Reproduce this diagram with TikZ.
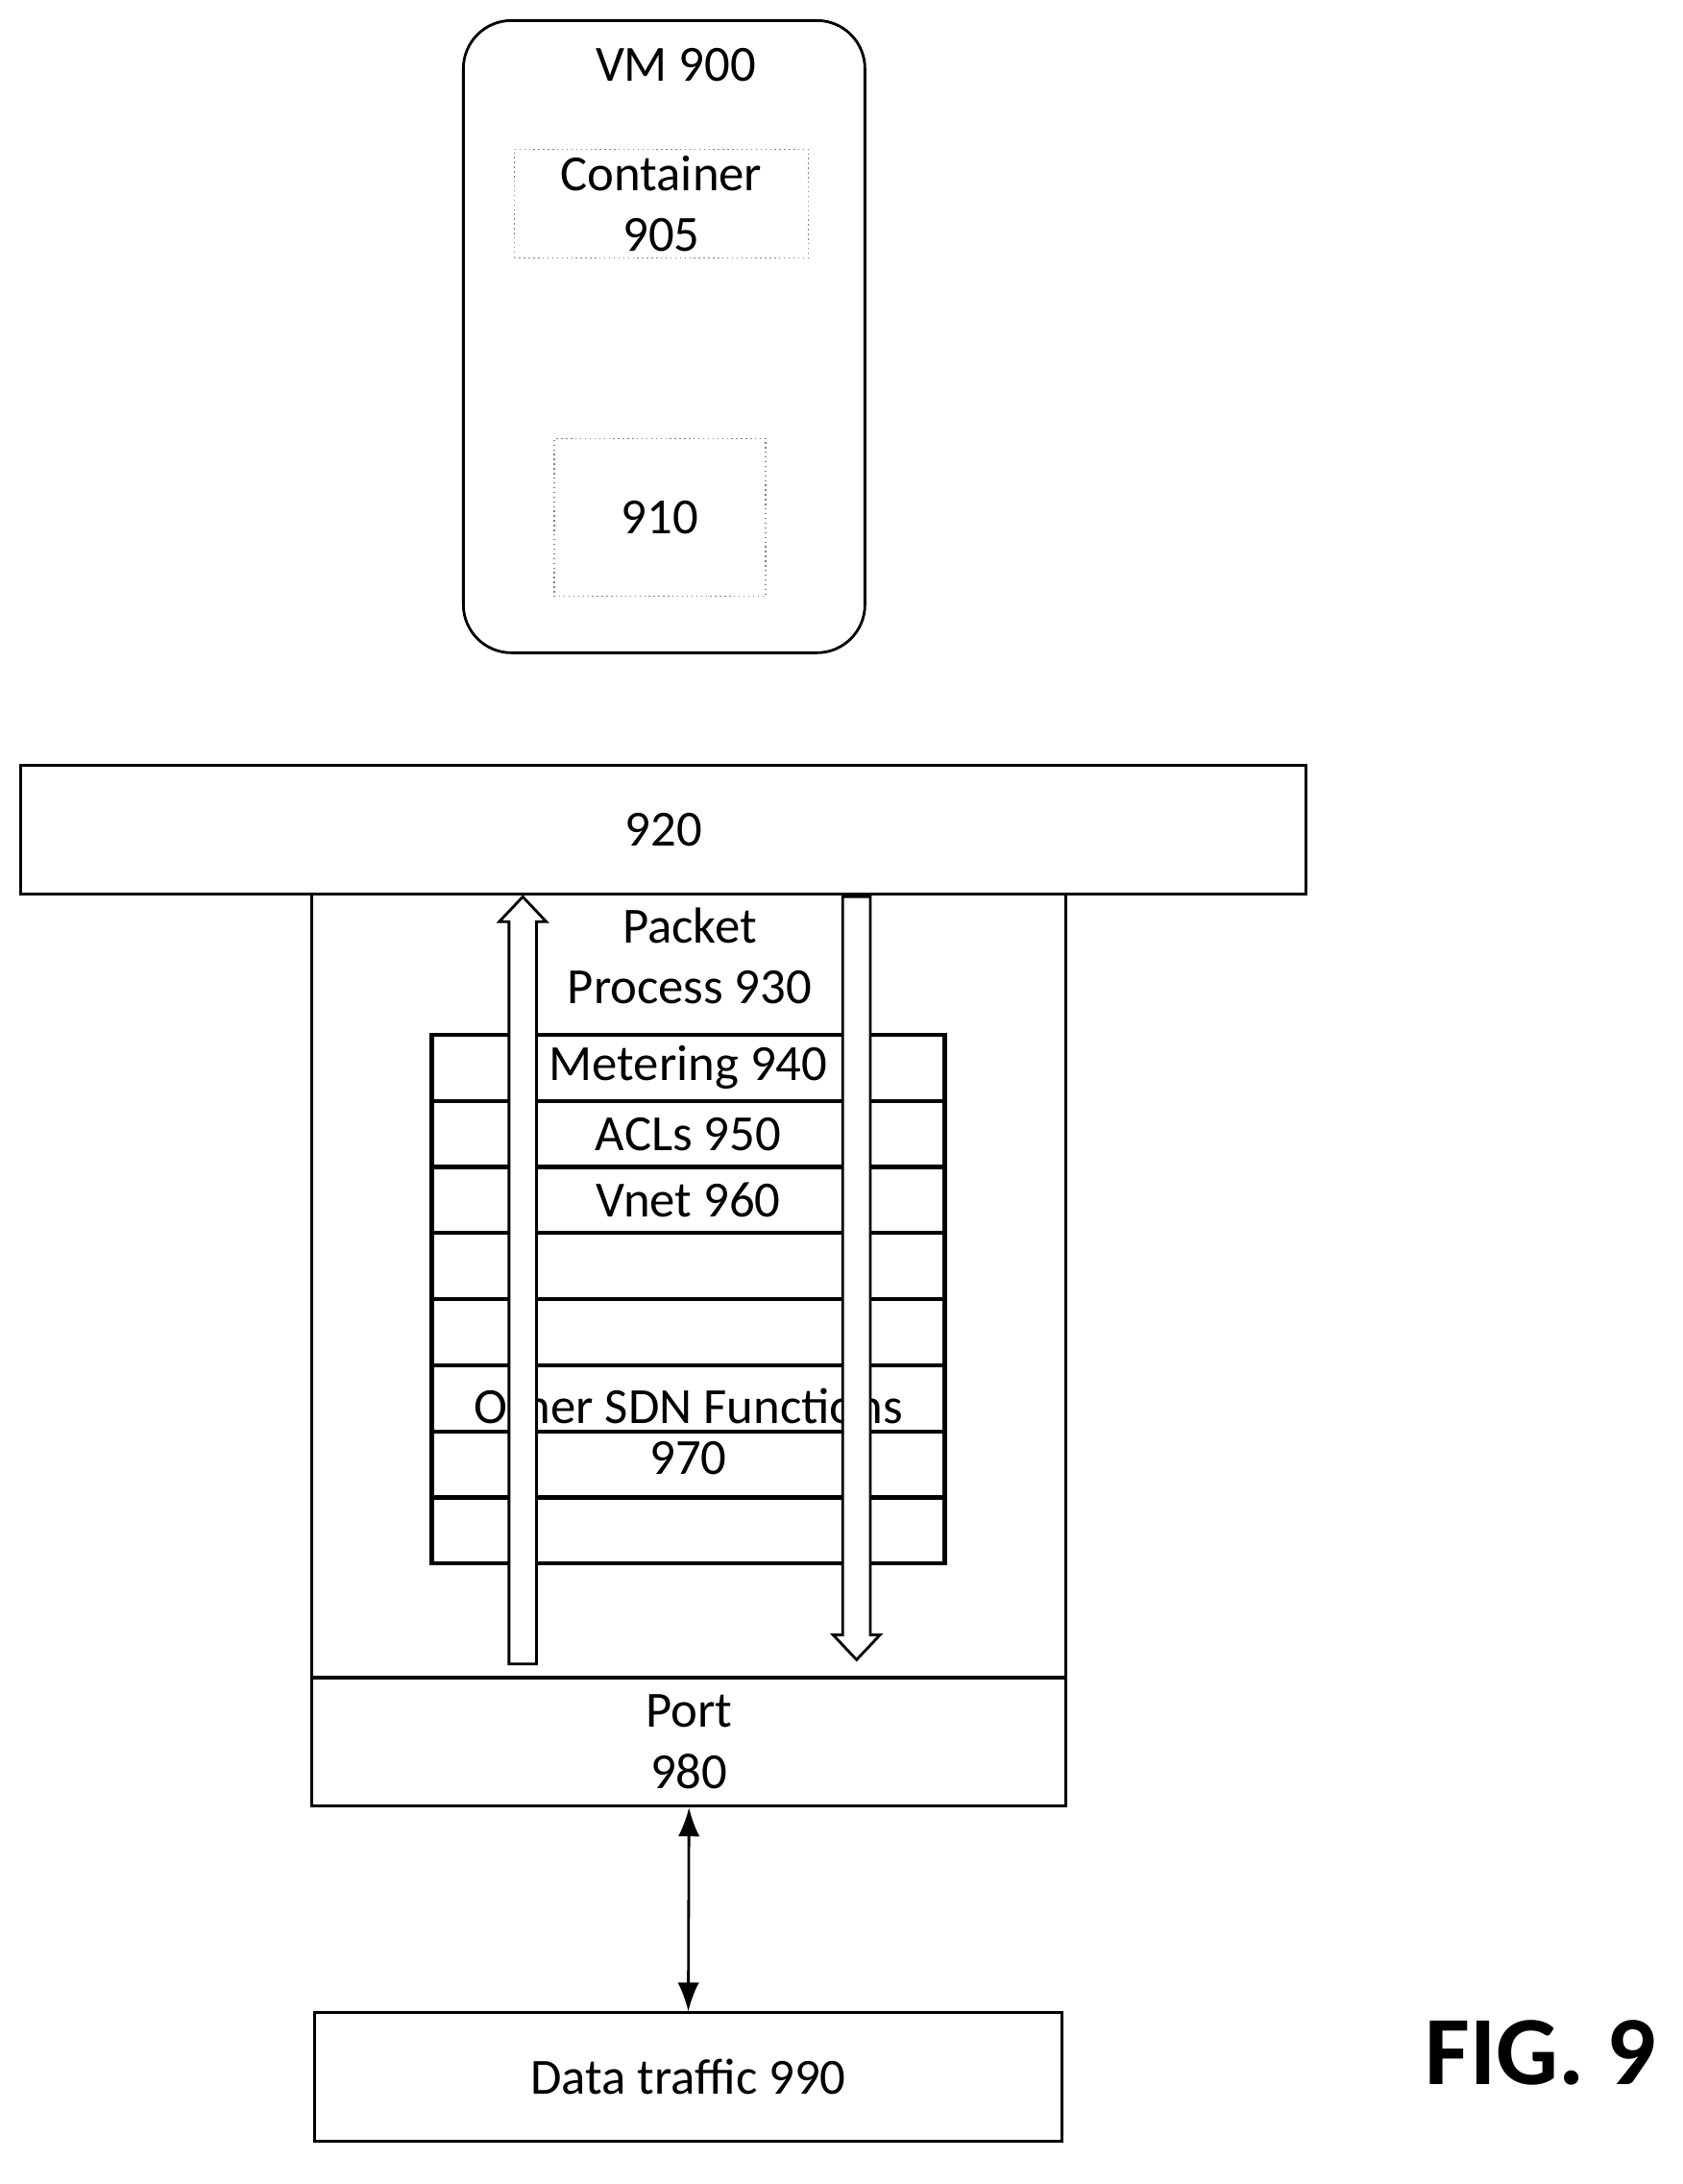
\documentclass[tikz,border=0pt]{standalone}
\usepackage{fontspec}
\setmainfont{Carlito}
\usetikzlibrary{arrows.meta, positioning, shapes}
\tikzstyle{box_style} = [rectangle, draw, thick, align=center, inner sep=0pt, font=\fontsize{15}{18}\selectfont]
\tikzstyle{dot_style} = [rectangle, draw=gray, densely dotted, align=center, inner sep=0pt, font=\fontsize{15}{18}\selectfont]
\tikzstyle{row_style} = [rectangle, draw, very thick, minimum width=5.34cm, minimum height=0.688cm, inner sep=0pt]
\tikzstyle{hollow_style} = [draw, thick, fill=white]
\tikzstyle{arrow_style} = [thick, {Latex[length=3mm]}-{Latex[length=3mm]}]
\begin{document}
\begin{tikzpicture}[x=0.01436cm, y=-0.01436cm]
	  \useasboundingbox (0,0) rectangle (1220,1583);
	
	  % VM
	  \node[box_style, rounded corners=0.5cm, minimum width=4.18cm, minimum height=6.58cm] (vm) at (481.5,244) {};
	  \node[font=\fontsize{15}{18}\selectfont] (vmlabel) at (490,47) {VM 900};
	  \node[dot_style, minimum width=3.06cm, minimum height=1.13cm] (container) at (479.5,147.5) {Container\\905};
	  \node[dot_style, minimum width=2.2cm, minimum height=1.64cm] (node910) at (478.5,375) {910};
	
	  % 920
	  \node[box_style, minimum width=13.38cm, minimum height=1.34cm] (node920) at (481,601.5) {920};
	
	  % Packet process
	  \node[box_style, minimum width=7.85cm, minimum height=8.16cm] (process) at (499.5,932) {};
	  \node[font=\fontsize{15}{18}\selectfont, align=center] (processlabel) at (500,693) {Packet\\Process 930};
	  \foreach \i in {0,...,7}
	    \node[row_style] (row\i) at (499,774+47.9*\i) {};
	  \node[font=\fontsize{15}{18}\selectfont] at (row0) {Metering 940};
	  \node[font=\fontsize{15}{18}\selectfont] at (row1) {ACLs 950};
	  \node[font=\fontsize{15}{18}\selectfont] at (row2) {Vnet 960};
	  \node[font=\fontsize{15}{18}\selectfont] (sdn) at (499,1019) {Other SDN Functions};
	  \node[font=\fontsize{15}{18}\selectfont] (sdnnum) at (499,1057) {970};
	
	  % hollow arrows
	  \draw[hollow_style] (369,1206) -- (369,668) -- (362,668) -- (379,650) -- (396,668) -- (389,668) -- (389,1206) -- cycle;
	  \draw[hollow_style] (611,650) -- (611,1185) -- (604,1185) -- (621,1203) -- (638,1185) -- (631,1185) -- (631,650) -- cycle;
	
	  % Port and data
	  \node[box_style, minimum width=7.85cm, minimum height=1.34cm] (port) at (499.5,1262.5) {Port\\980};
	  \node[box_style, minimum width=7.78cm, minimum height=1.34cm] (data) at (499,1505.5) {Data traffic 990};
	  \draw[arrow_style] (port.south) -- (data.north);
	
	  \node[font=\fontsize{29}{34}\selectfont\bfseries] (fig) at (1117,1488) {FIG. 9};
	
\end{tikzpicture}
\end{document}
